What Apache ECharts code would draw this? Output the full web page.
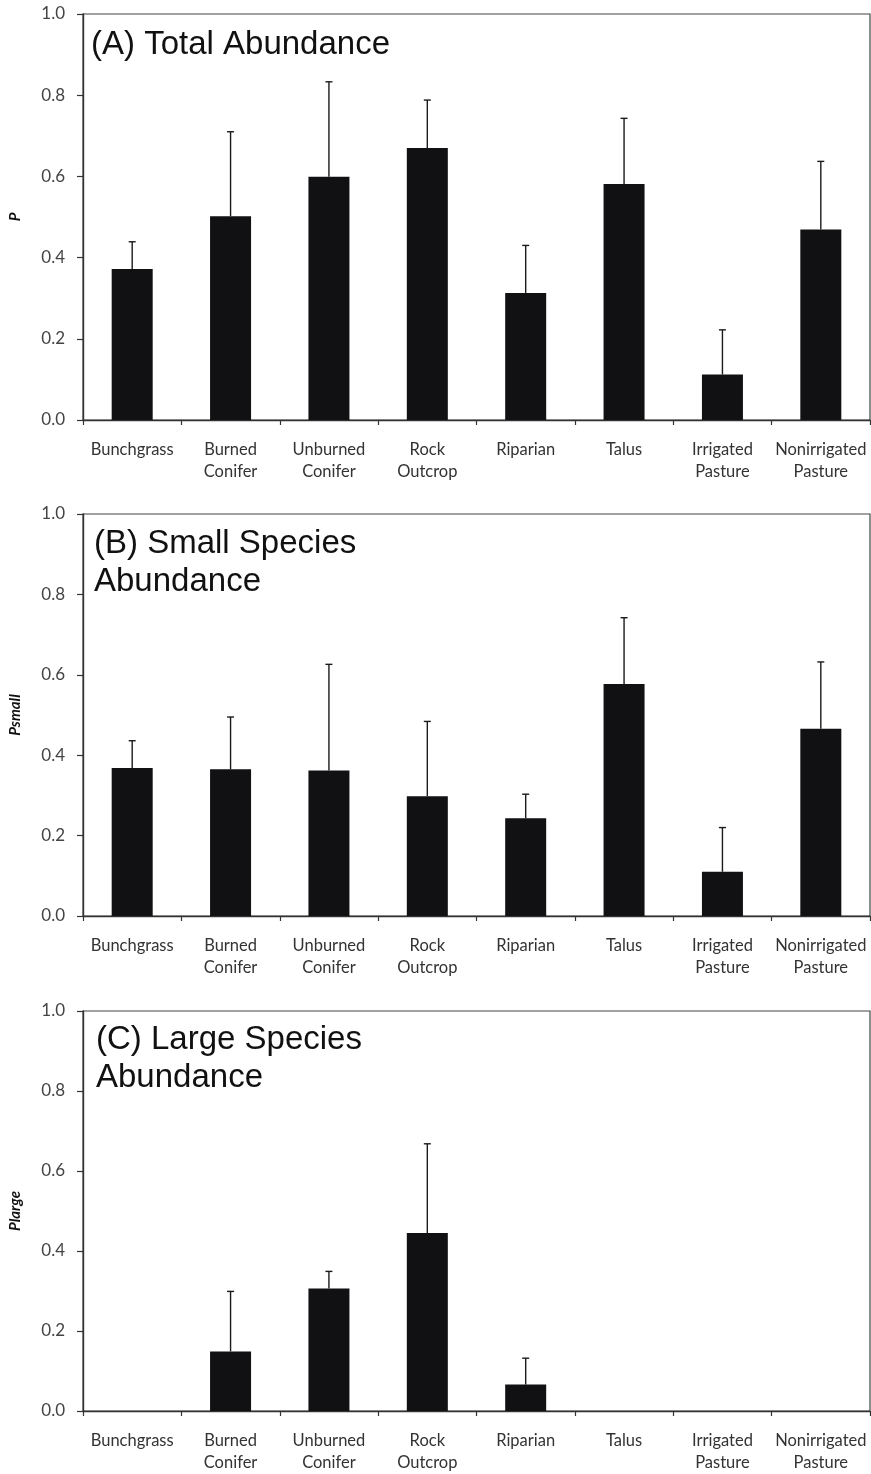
<!DOCTYPE html>
<html>
<head>
<meta charset="utf-8">
<script src="https://cdn.jsdelivr.net/npm/echarts@6/dist/echarts.min.js"></script>
<style>
html,body{margin:0;padding:0;background:#fff;}
#chart{width:871px;height:1474px;}
</style>
</head>
<body>
<div id="chart"></div>
<script>
// ---- data ----
const categories = ["Bunchgrass", "Burned\nConifer", "Unburned\nConifer", "Rock\nOutcrop", "Riparian", "Talus", "Irrigated\nPasture", "Nonirrigated\nPasture"];
const yTicks = ["0.0", "0.2", "0.4", "0.6", "0.8", "1.0"];

const panelTitles = ["(A) Total Abundance", "(B) Small Species\nAbundance", "(C) Large Species\nAbundance"];
const axisNames = ["P", "Psmall", "Plarge"];

// mean values
const totalMean = [0.372, 0.502, 0.599, 0.670, 0.313, 0.581, 0.112, 0.469];
const smallMean = [0.368, 0.365, 0.362, 0.298, 0.243, 0.577, 0.110, 0.466];
const largeMean = [0, 0.149, 0.306, 0.445, 0.066, 0, 0, 0];

// upper end of error bars (null = none)
const totalUpper = [0.439, 0.710, 0.833, 0.788, 0.430, 0.743, 0.222, 0.637];
const smallUpper = [0.436, 0.495, 0.626, 0.484, 0.303, 0.742, 0.220, 0.632];
const largeUpper = [null, 0.299, 0.349, 0.668, 0.132, null, null, null];

const means = [totalMean, smallMean, largeMean];
const uppers = [totalUpper, smallUpper, largeUpper];

// ---- layout ----
const grids = [
  {left: 80, right: 1, top: 14, height: 406},
  {left: 82, right: 1, top: 514, height: 402},
  {left: 83, right: 1, top: 1011, height: 401}
];
const titleTops = [26, 525, 1021];
const titleLefts = [91, 94, 96];

const chart = echarts.init(document.getElementById('chart'), null, {renderer: 'canvas'});

function errRender(params, api) {
  const x = api.value(0), v = api.value(1), hi = api.value(2);
  const p0 = api.coord([x, v]);
  const p1 = api.coord([x, hi]);
  const hw = 3.5;
  const st = {stroke: '#1a1a1a', lineWidth: 1.4};
  return {
    type: 'group',
    children: [
      {type: 'line', shape: {x1: p0[0], y1: p0[1], x2: p1[0], y2: p1[1]}, style: st},
      {type: 'line', shape: {x1: p1[0] - hw, y1: p1[1], x2: p1[0] + hw, y2: p1[1]}, style: st}
    ]
  };
}

const option = {
  backgroundColor: '#fff',
  animation: false,
  title: panelTitles.map((t, i) => ({
    text: t,
    left: titleLefts[i],
    top: titleTops[i],
    padding: 0,
    textStyle: {fontFamily: 'Liberation Sans', fontSize: 33, fontWeight: 'normal', color: '#111', lineHeight: 38}
  })),
  grid: grids.map(g => Object.assign({show: true, borderColor: '#444', borderWidth: 1.2, backgroundColor: 'transparent'}, g)),
  xAxis: grids.map((g, i) => ({
    type: 'category',
    gridIndex: i,
    data: categories,
    axisLine: {show: true, lineStyle: {color: '#333', width: 1.4}},
    axisTick: {show: true, length: 5, lineStyle: {color: '#333', width: 1.2}},
    axisLabel: {fontFamily: 'Lato', fontSize: 16.5, color: '#333', margin: 19, lineHeight: 22, interval: 0}
  })),
  yAxis: grids.map((g, i) => ({
    type: 'value',
    gridIndex: i,
    min: 0, max: 1, interval: 0.2,
    name: axisNames[i],
    nameLocation: 'middle',
    nameGap: 60,
    nameTextStyle: {fontFamily: 'Lato', fontSize: 15, fontWeight: 'bold', fontStyle: 'italic', color: '#111'},
    axisLine: {show: true, lineStyle: {color: '#333', width: 1.4}},
    axisTick: {show: true, length: 6, lineStyle: {color: '#333', width: 1.2}},
    splitLine: {show: false},
    axisLabel: {fontFamily: 'Lato', fontSize: 17, color: '#444', margin: 18,
      formatter: v => yTicks[Math.round(v / 0.2)]}
  })),
  series: [].concat(
    means.map((m, i) => ({
      type: 'bar',
      xAxisIndex: i, yAxisIndex: i,
      data: m,
      barWidth: 41,
      itemStyle: {color: '#111114'},
      silent: true
    })),
    uppers.map((u, i) => ({
      type: 'custom',
      xAxisIndex: i, yAxisIndex: i,
      renderItem: errRender,
      data: u.map((hi, j) => hi == null ? null : [j, means[i][j], hi]).filter(d => d),
      z: 5,
      silent: true
    }))
  )
};
chart.setOption(option);
</script>
</body>
</html>
